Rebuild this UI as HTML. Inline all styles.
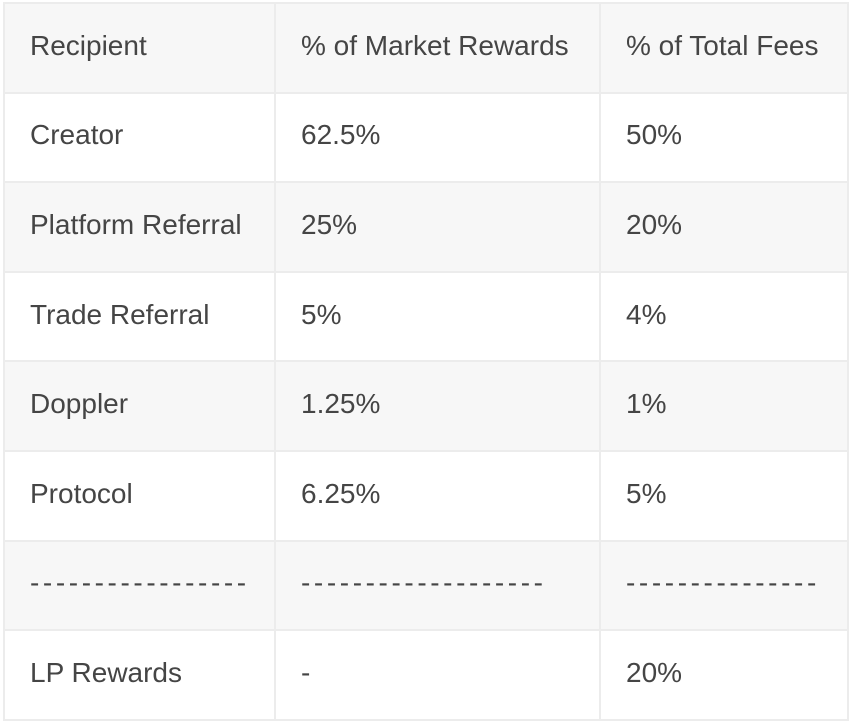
<!DOCTYPE html>
<html><head><style>
html,body{margin:0;padding:0;background:#fff;width:850px;height:728px;overflow:hidden}
table{position:absolute;left:3px;top:2px;border-collapse:collapse;font-family:"Liberation Sans",sans-serif;font-size:28px;color:#454545}
td{border:2px solid #ececec;height:89.6px;padding:0 0 4px 25px;vertical-align:middle;box-sizing:border-box}
tr:nth-child(odd) td{background:#f7f7f7}
tr:nth-child(even) td{background:#fff}
.d{letter-spacing:3.6px}
</style></head><body>
<table>
<colgroup><col style="width:271px"><col style="width:325px"><col style="width:248px"></colgroup>
<tr><td>Recipient</td><td>% of Market Rewards</td><td>% of Total Fees</td></tr>
<tr><td>Creator</td><td>62.5%</td><td>50%</td></tr>
<tr><td>Platform Referral</td><td>25%</td><td>20%</td></tr>
<tr><td>Trade Referral</td><td>5%</td><td>4%</td></tr>
<tr><td>Doppler</td><td>1.25%</td><td>1%</td></tr>
<tr><td>Protocol</td><td>6.25%</td><td>5%</td></tr>
<tr><td class="d">-----------------</td><td class="d">-------------------</td><td class="d">---------------</td></tr>
<tr><td>LP Rewards</td><td>-</td><td>20%</td></tr>
</table>
</body></html>
